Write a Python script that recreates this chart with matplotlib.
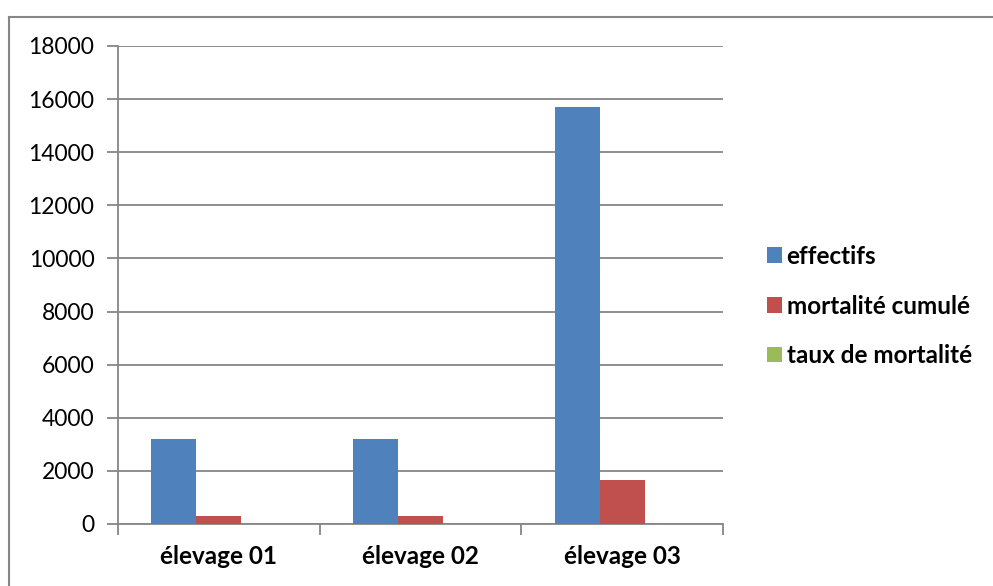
import numpy as np
import matplotlib.pyplot as plt
from matplotlib.lines import Line2D
from matplotlib.patches import Patch

plt.rcParams['font.family'] = ['Lato', 'DejaVu Sans']

categories = ['élevage 01', 'élevage 02', 'élevage 03']
effectifs = [3200, 3200, 15700]
mortalite_cumule = [300, 300, 1650]
taux_mortalite = [9.4, 9.4, 10.5]

series = [
    ('effectifs', effectifs, '#4f81bd'),
    ('mortalité cumulé', mortalite_cumule, '#c0504d'),
    ('taux de mortalité', taux_mortalite, '#9bbb59'),
]

GRID = '#868686'

fig = plt.figure(figsize=(9.93, 5.86), dpi=100, facecolor='w')
ax = fig.add_axes([118 / 993, 1 - 524 / 586, 605 / 993, 478 / 586])

x = np.arange(len(categories))
width = 45 / 202
for i, (name, vals, col) in enumerate(series):
    ax.bar(x + (i - 1) * width, vals, width, color=col, label=name, zorder=3)

ax.set_xlim(-0.5, len(categories) - 0.5)
ax.set_ylim(0, 18000)
ax.set_yticks(np.arange(0, 18001, 2000))
ax.yaxis.grid(True, color=GRID, linewidth=1.3, zorder=0)

# category boundaries carry the tick marks, labels sit in between
ax.set_xticks(np.arange(-0.5, len(categories), 1.0))
ax.set_xticklabels([])
ax.set_xticks(x, minor=True)
ax.set_xticklabels(categories, minor=True, fontsize=17.5, fontweight='bold')
ax.tick_params(axis='x', which='minor', length=0, pad=15)
ax.tick_params(axis='x', which='major', length=8, width=1.3, color=GRID)
ax.tick_params(axis='y', length=8, width=1.3, color=GRID, labelsize=16.5, pad=9)

for side in ['top', 'right']:
    ax.spines[side].set_visible(False)
for side in ['left', 'bottom']:
    ax.spines[side].set_color(GRID)
    ax.spines[side].set_linewidth(1.3)

handles = [Patch(facecolor=c, edgecolor='none') for _, _, c in series]
fig.legend(handles, [s[0] for s in series], loc='center left',
           bbox_to_anchor=(755 / 993, 1 - 306 / 586), frameon=False,
           handlelength=0.6, handleheight=0.6, handletextpad=0.2,
           labelspacing=1.1, borderpad=0, prop={'size': 17.5, 'weight': 'bold'})

# outer chart frame
fig.add_artist(Line2D([9 / 993, 9 / 993], [0, 1 - 17 / 586],
                      transform=fig.transFigure, color=GRID, linewidth=1.5))
fig.add_artist(Line2D([9 / 993, 1], [1 - 17 / 586, 1 - 17 / 586],
                      transform=fig.transFigure, color=GRID, linewidth=1.5))

fig.savefig('out.png', dpi=100)
